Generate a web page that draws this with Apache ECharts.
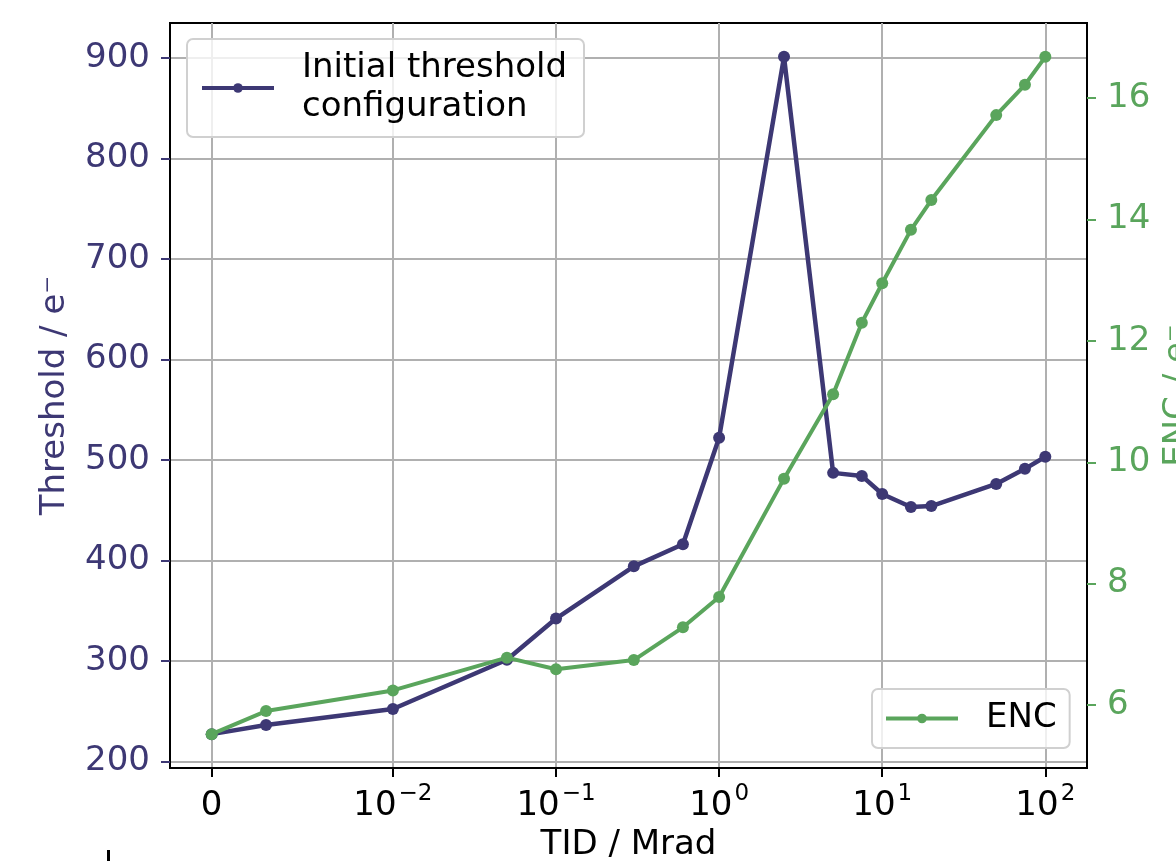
<!DOCTYPE html>
<html>
<head>
<meta charset="utf-8">
<script src="https://cdn.jsdelivr.net/npm/echarts@6/dist/echarts.min.js"></script>
<style>
  html, body { margin: 0; padding: 0; background: #fff; }
  #chart { width: 1176px; height: 861px; }
</style>
</head>
<body>
<div id="chart"></div>
<script>
// Total ionising dose steps (Mrad)
const tidMrad = [0, 0.003, 0.01, 0.05, 0.1, 0.3, 0.6, 1, 2.5, 5, 7.5, 10, 15, 20, 50, 75, 100];
// Mean threshold with the initial threshold configuration (electrons)
const thresholdE = [227, 236, 252, 301, 342, 394, 416, 522, 901, 487, 484, 466, 453, 454, 476, 491, 503];
// Equivalent noise charge (electrons)
const encE = [5.52, 5.90, 6.24, 6.78, 6.59, 6.74, 7.28, 7.78, 9.73, 11.12, 12.30, 12.95, 13.83, 14.32, 15.72, 16.22, 16.68];

// Axis ticks
const xTickDose = [0, 0.01, 0.1, 1, 10, 100];
const xTickBase = ['0', '10', '10', '10', '10', '10'];
const xTickExp = ['', '\u22122', '\u22121', '0', '1', '2'];
const thresholdTicks = [200, 300, 400, 500, 600, 700, 800, 900];
const encTicks = [6, 8, 10, 12, 14, 16];

const BLUE = '#3d3874';
const GREEN = '#5aa55c';
const FONT = 'DejaVu Sans';

// Symmetric log scale: linear below 0.01 Mrad, logarithmic above
const LINTHRESH = 0.01;
const LINSCALE = 1 / (1 - 1 / 10);
function symlog(x) {
  const a = Math.abs(x);
  if (a <= LINTHRESH) return x / LINTHRESH * LINSCALE;
  return Math.sign(x) * (LINSCALE + Math.log10(a / LINTHRESH));
}

function paddedRange(vals, frac) {
  const lo = Math.min(...vals), hi = Math.max(...vals);
  const pad = (hi - lo) * frac;
  return [lo - pad, hi + pad];
}

const xPos = tidMrad.map(symlog);
const xRange = paddedRange(xPos, 0.05);
const yRange = paddedRange(thresholdE, 0.05);
const y2Range = paddedRange(encE, 0.05);
const xTickPos = xTickDose.map(symlog);

const thresholdName = 'Initial threshold\nconfiguration';

const legendBase = {
  orient: 'vertical',
  backgroundColor: 'rgba(255,255,255,0.8)',
  borderColor: '#d0d0d0', borderWidth: 2, borderRadius: 6,
  itemWidth: 72, itemHeight: 12,
  lineStyle: { width: 4 },
  textStyle: { fontSize: 34, color: '#000', lineHeight: 39, fontFamily: FONT, padding: [0, 0, 0, 23] }
};

const chart = echarts.init(document.getElementById('chart'));
chart.setOption({
  animation: false,
  backgroundColor: '#fff',
  textStyle: { fontFamily: FONT },
  grid: {
    left: 170, right: 89, top: 23, bottom: 93,
    outerBoundsMode: 'none',
    containLabel: false,
    show: true, borderColor: '#000', borderWidth: 2, backgroundColor: 'transparent'
  },
  legend: [
    Object.assign({}, legendBase, {
      data: [thresholdName],
      left: 187, top: 39,
      padding: [10, 17, 10, 13]
    }),
    Object.assign({}, legendBase, {
      data: ['ENC'],
      left: 872, top: 689,
      padding: [10, 13, 10, 12]
    })
  ],
  xAxis: {
    type: 'value',
    min: xRange[0], max: xRange[1],
    name: 'TID / Mrad',
    nameLocation: 'middle',
    nameGap: 56,
    nameTextStyle: { fontSize: 34, color: '#000', fontFamily: FONT },
    axisLine: { show: true, onZero: false, lineStyle: { color: '#000', width: 2 } },
    axisTick: { show: true, length: 9, lineStyle: { color: '#000', width: 2 }, customValues: xTickPos },
    splitLine: { show: true, lineStyle: { color: '#b0b0b0', width: 2 } },
    axisLabel: {
      customValues: xTickPos,
      margin: 15,
      formatter: function (v) {
        let k = 0, best = Infinity;
        xTickPos.forEach(function (p, i) { if (Math.abs(p - v) < best) { best = Math.abs(p - v); k = i; } });
        return xTickExp[k] ? '{b|' + xTickBase[k] + '}{s|' + xTickExp[k] + '}' : '{b|' + xTickBase[k] + '}';
      },
      rich: {
        b: { fontSize: 34, lineHeight: 40, verticalAlign: 'bottom', color: '#000', fontFamily: FONT },
        s: { fontSize: 23, lineHeight: 23, verticalAlign: 'top', color: '#000', fontFamily: FONT, padding: [0, 0, 0, 2] }
      }
    }
  },
  yAxis: [
    {
      type: 'value',
      position: 'left',
      min: yRange[0], max: yRange[1],
      name: 'Threshold / e\u207B',
      nameLocation: 'middle',
      nameRotate: 90,
      nameGap: 98,
      nameTextStyle: { fontSize: 34, color: BLUE, fontFamily: FONT },
      axisLine: { show: true, onZero: false, lineStyle: { color: '#000', width: 2 } },
      axisTick: { show: true, length: 9, lineStyle: { color: BLUE, width: 2 }, customValues: thresholdTicks },
      splitLine: { show: true, lineStyle: { color: '#b0b0b0', width: 2 } },
      axisLabel: { customValues: thresholdTicks, margin: 20, fontSize: 34, color: BLUE, fontFamily: FONT }
    },
    {
      type: 'value',
      position: 'right',
      min: y2Range[0], max: y2Range[1],
      name: 'ENC / e\u207B',
      nameLocation: 'middle',
      nameRotate: 90,
      nameGap: 70,
      nameTextStyle: { fontSize: 34, color: GREEN, fontFamily: FONT },
      axisLine: { show: true, onZero: false, lineStyle: { color: '#000', width: 2 } },
      axisTick: { show: true, length: 9, lineStyle: { color: GREEN, width: 2 }, customValues: encTicks },
      splitLine: { show: false },
      axisLabel: { customValues: encTicks, margin: 20, fontSize: 34, color: GREEN, fontFamily: FONT }
    }
  ],
  series: [
    {
      name: thresholdName,
      type: 'line',
      yAxisIndex: 0,
      data: tidMrad.map(function (t, i) { return [xPos[i], thresholdE[i]]; }),
      symbol: 'circle', symbolSize: 12, showSymbol: true,
      lineStyle: { color: BLUE, width: 4.5 },
      itemStyle: { color: BLUE },
      z: 2
    },
    {
      name: 'ENC',
      type: 'line',
      yAxisIndex: 1,
      data: tidMrad.map(function (t, i) { return [xPos[i], encE[i]]; }),
      symbol: 'circle', symbolSize: 12, showSymbol: true,
      lineStyle: { color: GREEN, width: 4 },
      itemStyle: { color: GREEN },
      z: 3
    }
  ],
  graphic: [
    { type: 'rect', shape: { x: 107, y: 850, width: 3, height: 11 }, style: { fill: '#000' }, silent: true }
  ]
});
</script>
</body>
</html>
